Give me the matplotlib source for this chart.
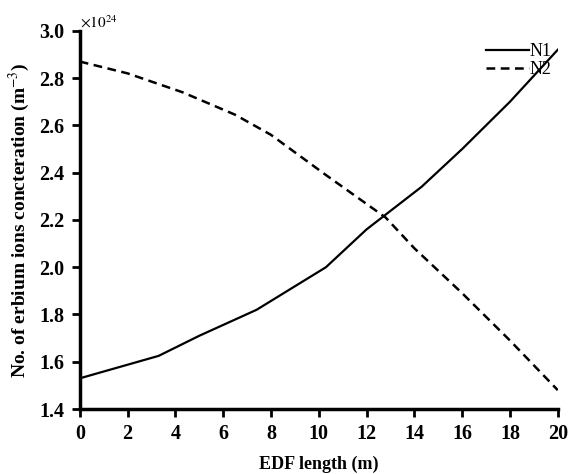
import matplotlib
matplotlib.use('Agg')
import matplotlib.pyplot as plt

# EDF length (m) and ion concentrations (x1e24 m^-3)
x_n1 = [0, 3.3, 5, 7.4, 10.3, 12, 14.3, 16, 18, 20]
n1 = [1.53, 1.625, 1.71, 1.82, 2.0, 2.16, 2.34, 2.5, 2.7, 2.92]
x_n2 = [0, 2, 4.3, 6.5, 8, 10.3, 12.8, 14, 16, 18, 20]
n2 = [2.87, 2.82, 2.74, 2.645, 2.56, 2.39, 2.21, 2.08, 1.89, 1.69, 1.48]

xticks = list(range(0, 21, 2))
yticks = [1.4, 1.6, 1.8, 2.0, 2.2, 2.4, 2.6, 2.8, 3.0]

plt.rcParams['font.family'] = ['Liberation Serif', 'DejaVu Serif']
plt.rcParams['mathtext.fontset'] = 'stix'

fig = plt.figure(figsize=(5.78, 4.74), dpi=100)
ax = fig.add_axes([0.138, 0.137, 0.827, 0.798])

ax.plot(x_n1, n1, color='black', lw=1.6, label='N1')
ax.plot(x_n2, n2, color='black', lw=1.8, ls=(0, (3.5, 2.2)), label='N2')

ax.set_xlim(0, 20)
ax.set_ylim(1.4, 3.0)
ax.set_xticks(xticks)
ax.set_yticks(yticks)
ax.set_yticklabels(['%.1f' % v for v in yticks])
for lab in ax.get_xticklabels() + ax.get_yticklabels():
    lab.set_fontweight('bold')
    lab.set_fontsize(14.5)

for s in ['top', 'right']:
    ax.spines[s].set_visible(False)
for s in ['left', 'bottom']:
    ax.spines[s].set_linewidth(2.5)
ax.tick_params(direction='out', length=6, width=2, pad=5)

ax.set_xlabel('EDF length (m)', fontsize=13, fontweight='bold', labelpad=8)
ax.set_ylabel('No. of erbium ions concteration (m$^{-3}$)', fontsize=14,
              fontweight='bold', labelpad=5)
ax.text(0.0, 1.0, r'$\times 10^{24}$', transform=ax.transAxes, fontsize=11,
        ha='left', va='bottom')

ax.legend(loc='upper right', frameon=False, fontsize=13, handlelength=2.4,
          handletextpad=0.0, labelspacing=0.05, bbox_to_anchor=(1.02, 1.01))

fig.savefig('out.png', dpi=100)
